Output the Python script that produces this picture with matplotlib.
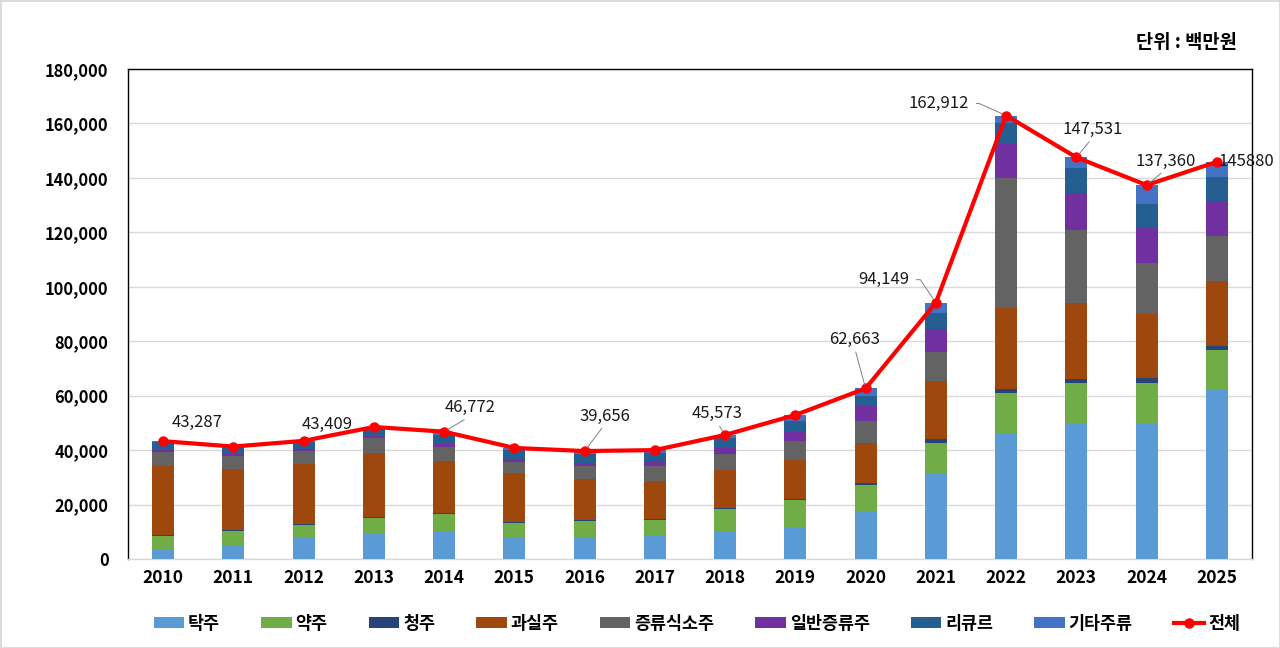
import matplotlib
matplotlib.use("Agg")
import matplotlib.pyplot as plt
from matplotlib.patches import Rectangle
from matplotlib.ticker import FuncFormatter
import numpy as np

plt.rcParams['font.family'] = ['Noto Sans CJK KR', 'DejaVu Sans']

years = [str(y) for y in range(2010, 2026)]

# 단위: 백만원
takju = [3300, 5100, 7600, 9400, 10000, 8000, 8200, 8600, 10000, 11600, 17700, 31200, 46200, 49500, 49900, 62500]
yakju = [5100, 5100, 5000, 5800, 6500, 5300, 5800, 5800, 8300, 10100, 9500, 11500, 14700, 15000, 14900, 14300]
cheongju = [300, 300, 300, 300, 300, 300, 300, 300, 300, 300, 800, 1200, 1400, 1700, 1700, 1600]
gwasilju = [25300, 22600, 22000, 23300, 19300, 17900, 15000, 13800, 14100, 14400, 14700, 21500, 30000, 27700, 23600, 23700]
jeungryu_soju = [5300, 4900, 4800, 5600, 4900, 4300, 4900, 5800, 5800, 6900, 8000, 10800, 47800, 27000, 18600, 16700]
ilban_jeungryu = [800, 700, 600, 900, 1200, 800, 1200, 1600, 2400, 3800, 5600, 8300, 12400, 13700, 12900, 12600]
liqueur = [2900, 2200, 2600, 2600, 3200, 3300, 3000, 3000, 3600, 3700, 3600, 6000, 7600, 9200, 8900, 9100]
gita = [300, 400, 500, 600, 1400, 900, 1300, 1100, 1100, 2100, 2800, 3600, 2800, 3700, 6900, 5400]

total = [43287, 41300, 43409, 48500, 46772, 40800, 39656, 40000, 45573, 52900, 62663, 94149, 162912, 147531, 137360, 145880]

series_names = ['탁주', '약주', '청주', '과실주', '증류식소주', '일반증류주', '리큐르', '기타주류']
series_values = [takju, yakju, cheongju, gwasilju, jeungryu_soju, ilban_jeungryu, liqueur, gita]
series_colors = ['#5B9BD5', '#70AD47', '#264478', '#9E480E', '#636363', '#7030A0', '#255E91', '#4472C4']

# labelled points: index, text
label_idx = [0, 2, 4, 6, 8, 10, 11, 12, 13, 14, 15]
label_txt = ['43,287', '43,409', '46,772', '39,656', '45,573', '62,663', '94,149', '162,912', '147,531', '137,360', '145880']
label_off = [(34, 19), (24, 16), (26, 24), (20, 35), (-8, 21), (-11, 49), (-52, 23), (-67, 12), (16, 28), (19, 24), (29, 0)]
label_leader = [None, None, 'bottom', 'bottom', 'bottom', 'bottom', 'elbow56', 'elbow24', 'bottom', 'bottom', None]

fig = plt.figure(figsize=(12.8, 6.48), dpi=100)
fig.patches.append(Rectangle((0, 0), 1, 1, transform=fig.transFigure, fill=False,
                             edgecolor='#D9D9D9', linewidth=2, zorder=0))
ax = fig.add_axes([128 / 1280, (648 - 559) / 648, 1124 / 1280, 490 / 648])

x = np.arange(len(years))
bottom = np.zeros(len(years))
handles = []
for name, vals, col in zip(series_names, series_values, series_colors):
    h = ax.bar(x, vals, width=0.31, bottom=bottom, color=col, label=name, zorder=3, linewidth=0)
    bottom += np.array(vals)
    handles.append(h)

ln, = ax.plot(x, total, color='#FF0000', lw=3, marker='o', markersize=6.5, zorder=5, label='전체')
handles.append(ln)

for i, t, off, ld in zip(label_idx, label_txt, label_off, label_leader):
    kw = dict(textcoords='offset pixels', ha='center', va='center', fontsize=12,
              color='#1A1A1A', zorder=6, annotation_clip=False)
    if ld == 'bottom':
        kw['arrowprops'] = dict(arrowstyle='-', color='#7F7F7F', lw=0.7, relpos=(0.5, 0.0),
                                shrinkA=1, shrinkB=3)
    elif ld is not None and ld.startswith('elbow'):
        ang = float(ld[5:])
        kw['arrowprops'] = dict(arrowstyle='-', color='#7F7F7F', lw=0.7, relpos=(1.0, 0.5),
                                shrinkA=3, shrinkB=3,
                                connectionstyle=f'angle,angleA=0,angleB={-ang},rad=0')
    ax.annotate(t, xy=(i, total[i]), xytext=off, **kw)

ax.set_xlim(-0.5, len(years) - 0.5)
ax.set_ylim(0, 180000)
ax.set_yticks(np.arange(0, 180001, 20000))
ax.yaxis.set_major_formatter(FuncFormatter(lambda v, p: f'{int(v):,}'))
ax.set_xticks(x)
ax.set_xticklabels(years)
ax.tick_params(axis='both', length=0, colors='#000000')
ax.tick_params(axis='x', labelsize=12.5, pad=7)
ax.tick_params(axis='y', labelsize=11.8, pad=14)
for lab in ax.get_xticklabels() + ax.get_yticklabels():
    lab.set_fontweight('bold')

ax.grid(axis='y', color='#D9D9D9', lw=1, zorder=0)
ax.set_axisbelow(True)
for s in ['left', 'top', 'right']:
    ax.spines[s].set_color('#000000')
    ax.spines[s].set_linewidth(1)
ax.spines['bottom'].set_color('#D9D9D9')
ax.spines['bottom'].set_linewidth(1)

fig.text(1237 / 1280, 1 - 43 / 648, '단위 : 백만원', ha='right', va='center',
         fontsize=13.5, fontweight='bold')

leg = fig.legend(handles=handles, labels=series_names + ['전체'], loc='center',
                 bbox_to_anchor=(697 / 1280, 24 / 648), ncol=9, frameon=False,
                 prop={'size': 12.5, 'weight': 'bold'}, columnspacing=2.38,
                 handlelength=1.75, handletextpad=0.22, handleheight=0.6)

fig.savefig('out.png', dpi=100)
